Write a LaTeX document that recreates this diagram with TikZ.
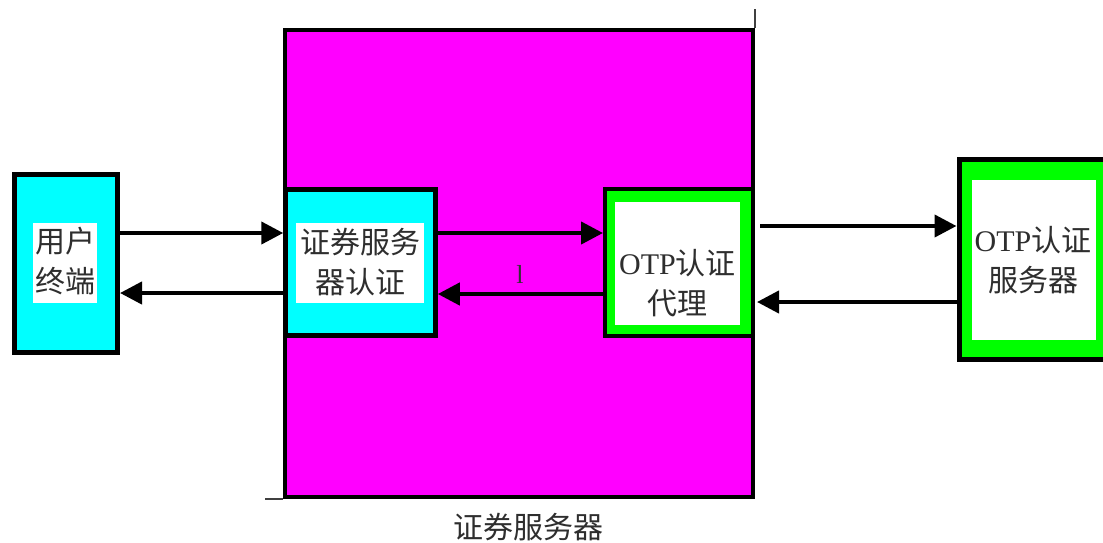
\documentclass[tikz,border=0pt]{standalone}
\usepackage{fontspec}
\setmainfont{Liberation Serif}
\newfontfamily\cjk{Noto Sans CJK SC}
\usetikzlibrary{arrows.meta}
\definecolor{cy}{RGB}{0,255,255}
\definecolor{mg}{RGB}{255,0,255}
\definecolor{gr}{RGB}{0,255,0}
\tikzset{
  txt/.style={font=\fontsize{30}{40}\selectfont, text=black!82, align=center, inner sep=0pt},
  outerbox/.style={draw=black, line width=4.5pt, inner sep=0pt},
  whitebox/.style={fill=white, inner sep=0pt},
  arr/.style={line width=4.2pt, -{Triangle[length=22pt,width=22pt]}},
  thin/.style={line width=1.2pt, black!75}
}
\begin{document}
\begin{tikzpicture}[x=1pt,y=-1pt]
\clip (0,0) rectangle (1103,542);
\fill[white] (0,0) rectangle (1103,542);
% big magenta server box
\node[outerbox, fill=mg, line width=4pt, minimum width=468pt, minimum height=467pt] (mag) at (519,263.5) {};
\draw[thin] (mag.north east) -- ++(0,-19);
\draw[thin] (mag.south west) -- ++(-18,0);
\node[txt] (maglbl) at (528,527) {\cjk 证券服务器};
% user terminal
\node[outerbox, fill=cy, line width=5pt, minimum width=103pt, minimum height=178pt] (ut) at (66,263.5) {};
\node[whitebox, minimum width=64pt, minimum height=80pt] (utbg) at (65,263) {};
\node[txt] (uttxt) at (65,261) {\cjk 用户\\\cjk 终端};
% securities server authentication
\node[outerbox, fill=cy, minimum width=150pt, minimum height=146pt] (sa) at (360.5,262.5) {};
\node[whitebox, minimum width=128pt, minimum height=80pt] (sabg) at (360,263) {};
\node[txt] (satxt) at (360,262) {\cjk 证券服务\\\cjk 器认证};
% OTP proxy
\node[outerbox, fill=gr, line width=4pt, minimum width=148pt, minimum height=147pt] (op) at (679,262.5) {};
\node[whitebox, minimum width=125pt, minimum height=123pt] (opbg) at (677.5,263.5) {};
\node[txt] (optxt) at (677.5,283) {OTP{\cjk 认证}\\\cjk 代理};
% OTP server
\node[outerbox, fill=gr, line width=5pt, minimum width=146pt, minimum height=200pt] (os) at (1032,259.5) {};
\node[whitebox, minimum width=124pt, minimum height=160pt] (osbg) at (1034,260) {};
\node[txt] (ostxt) at (1033,260) {OTP{\cjk 认证}\\\cjk 服务器};
% arrows
\draw[arr] (ut.east |- 0,233) -- (sa.west |- 0,233);
\draw[arr] (sa.west |- 0,293) -- (ut.east |- 0,293);
\draw[arr] (sa.east |- 0,233) -- (op.west |- 0,233);
\draw[arr] (op.west |- 0,294) -- (sa.east |- 0,294);
\draw[arr] ([xshift=5pt]op.east |- 0,226) -- (os.west |- 0,226);
\draw[arr] (os.west |- 0,302) -- ([xshift=2pt]op.east |- 0,302);
\node[font=\fontsize{26}{26}\selectfont, text=black!80, inner sep=0pt] (lbl) at (520,274) {l};
\end{tikzpicture}
\end{document}
